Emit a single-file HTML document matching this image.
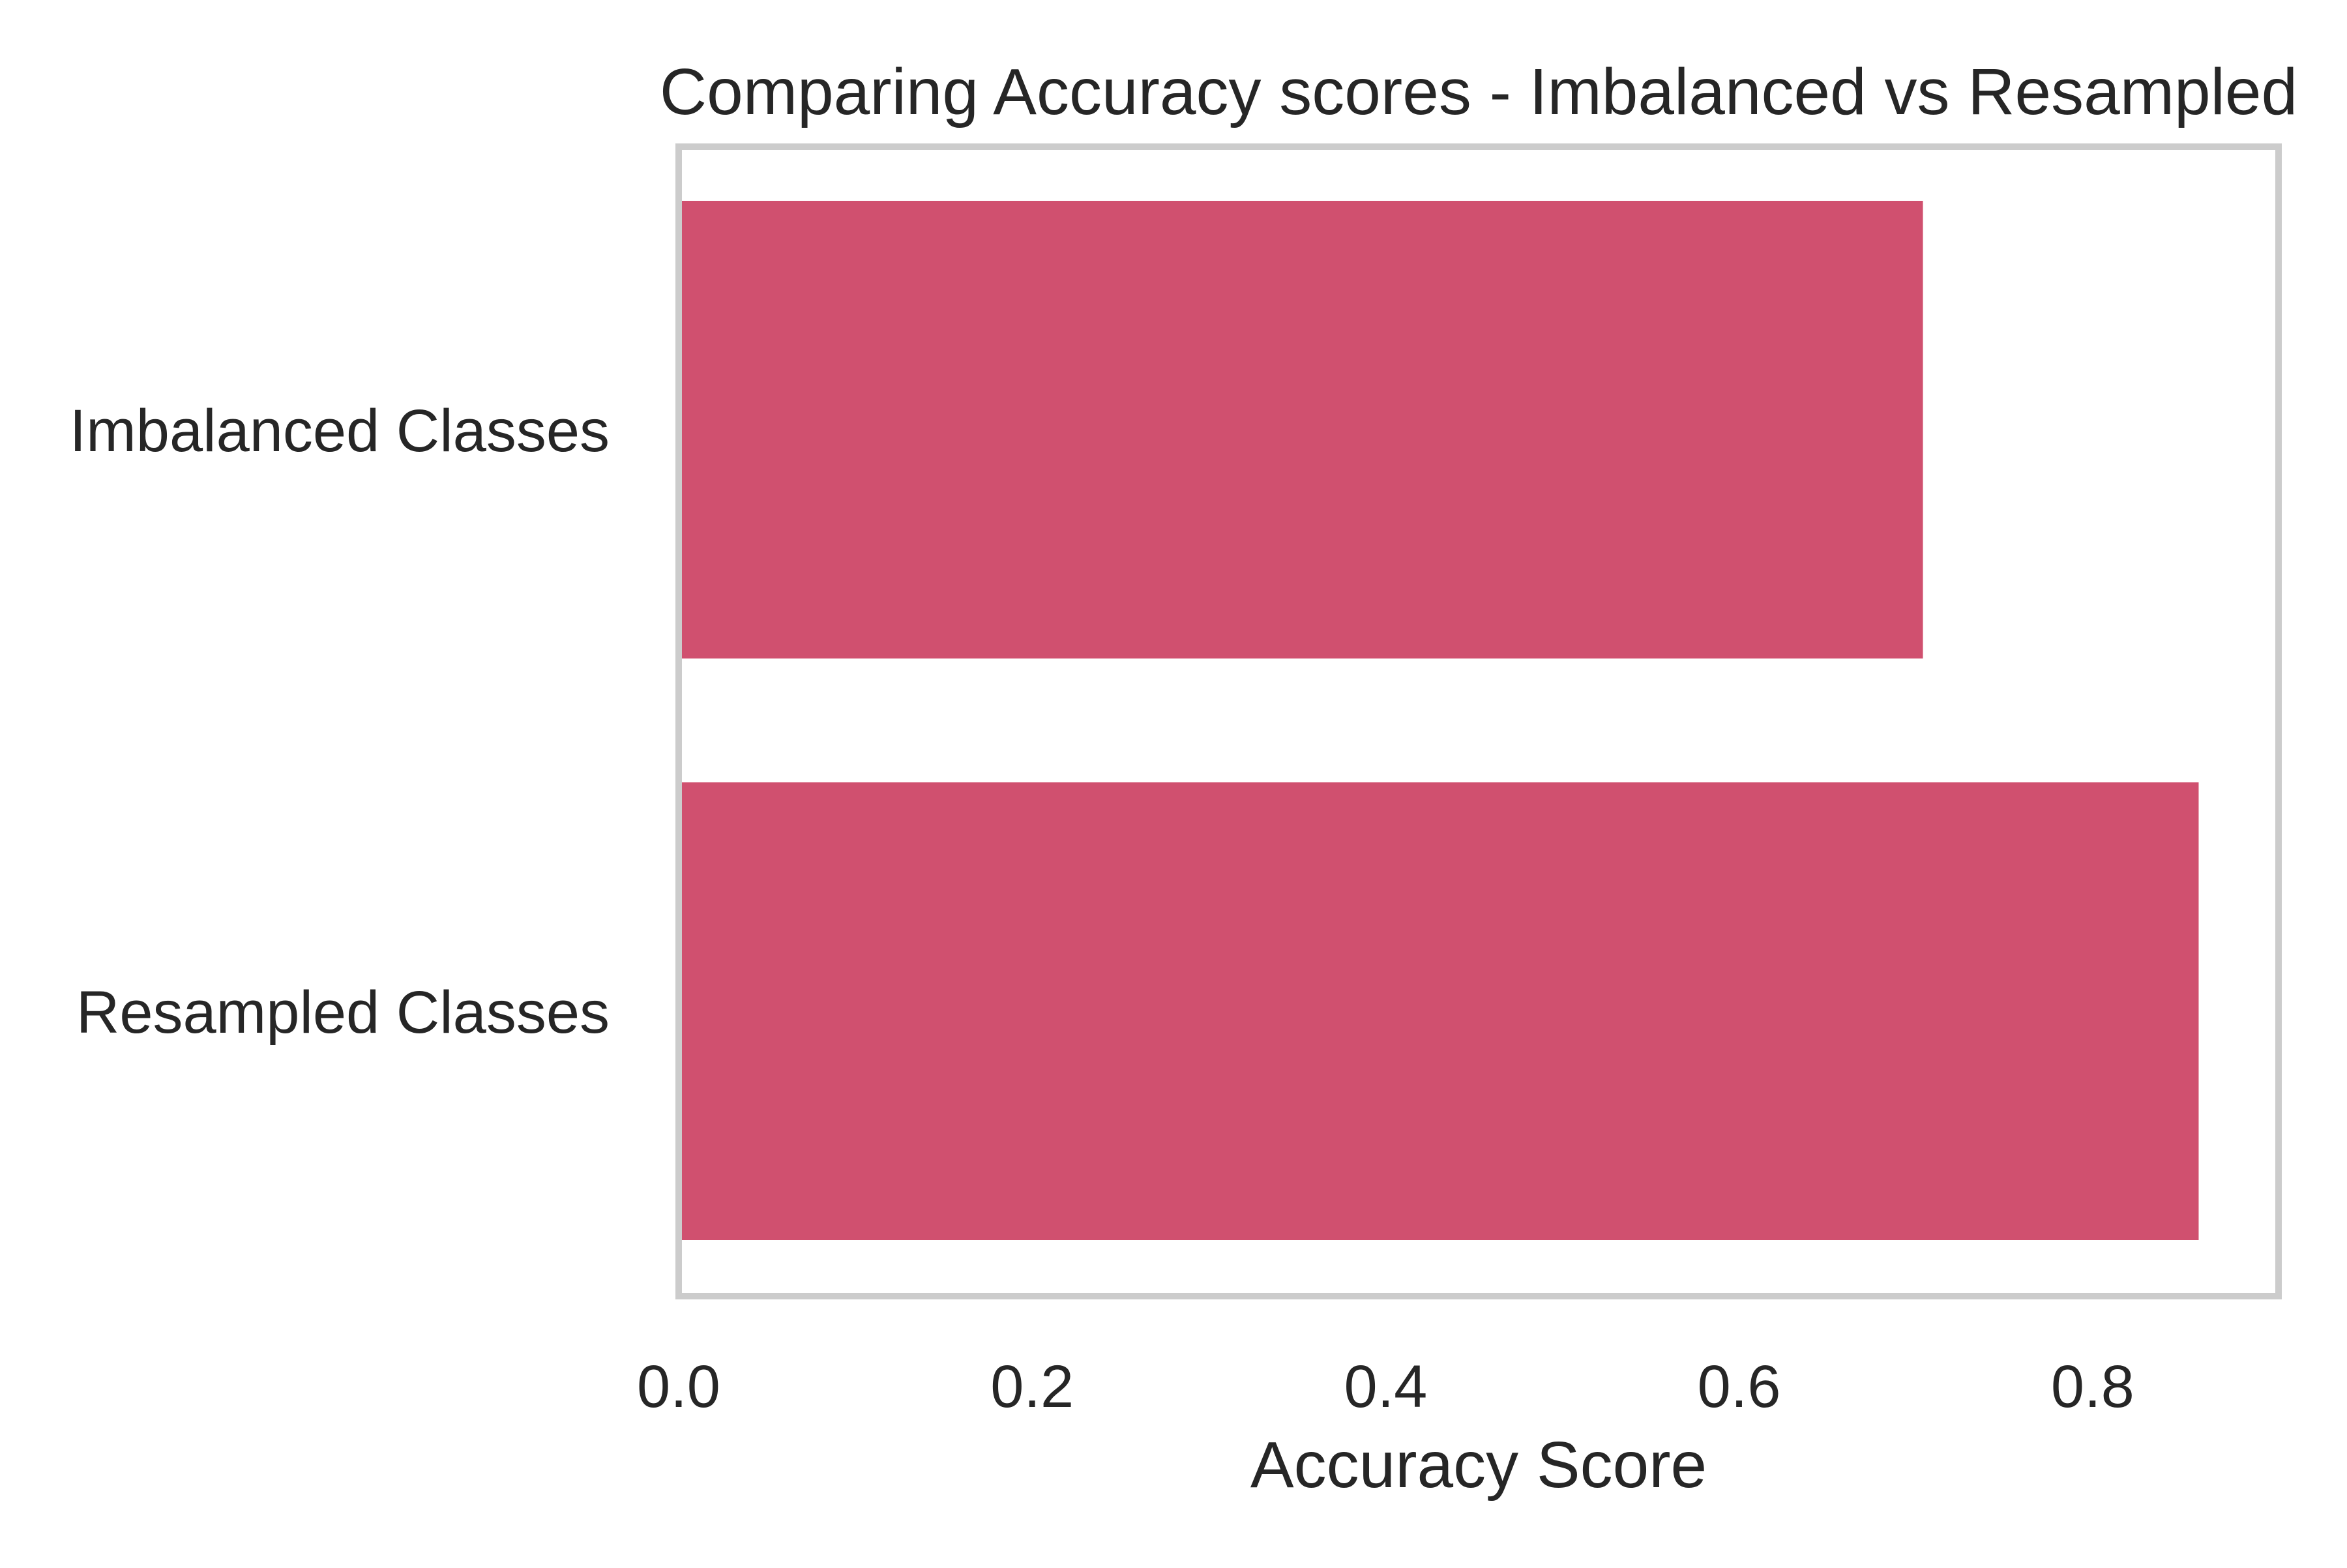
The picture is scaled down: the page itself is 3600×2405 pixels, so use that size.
<!DOCTYPE html>
<html><head><meta charset="utf-8"><style>
html,body{margin:0;padding:0;background:#fff;}
svg text{font-family:"Liberation Sans",Arial,sans-serif;fill:#262626;}
</style></head><body>
<svg width="3600" height="2400" viewBox="0 0 3600 2400" xmlns="http://www.w3.org/2000/svg">
<rect width="3600" height="2400" fill="#fff"/>
<g id="plot"></g>
<text x="2268" y="175" font-size="100" text-anchor="middle">Comparing Accuracy scores - Imbalanced vs Resampled</text>
<text x="2268" y="2281" font-size="100" text-anchor="middle">Accuracy Score</text>
</svg>
<script>
const categories = ["Imbalanced Classes", "Resampled Classes"];
const values = [0.704, 0.860];
const xTicks = [0.0, 0.2, 0.4, 0.6, 0.8];
const xTickLabels = ["0.0", "0.2", "0.4", "0.6", "0.8"];

const NS = "http://www.w3.org/2000/svg";
const L = 1041, R = 3495, T = 225, B = 1988;
const xMax = (R - L) / 2711;
function xs(v){ return L + v / xMax * (R - L); }
const c0 = 659, band = 892;
function ys(i){ return c0 + i * band; }
const barH = 702;
const g = document.getElementById('plot');
function mk(tag, attrs){ const e = document.createElementNS(NS, tag); for (const k in attrs) e.setAttribute(k, attrs[k]); return e; }

values.forEach((v, i) => {
  const r = mk('rect', {x: xs(0), y: ys(i) - barH/2, width: xs(v) - xs(0), height: barH, fill: '#d0506f'});
  
  
  g.appendChild(r);
  const t = mk('text', {x: 935, y: ys(i) + 33, 'font-size': 92, 'text-anchor': 'end'});
  t.textContent = categories[i];
  
  
  g.appendChild(t);
});
xTicks.forEach((v, i) => {
  const t = mk('text', {x: xs(v), y: 2158, 'font-size': 92, 'text-anchor': 'middle'});
  t.textContent = xTickLabels[i];
  
  
  g.appendChild(t);
});
const frame = mk('rect', {x: L, y: T, width: R - L, height: B - T, fill: 'none', stroke: '#cccccc', 'stroke-width': 10});


g.appendChild(frame);
</script>
</body></html>
